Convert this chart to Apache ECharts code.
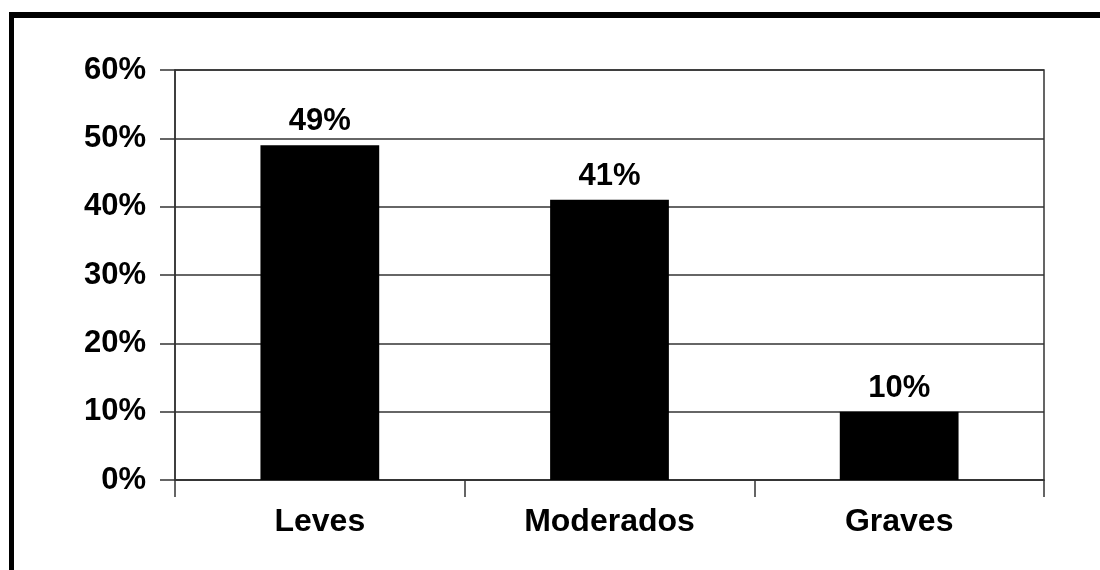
<!DOCTYPE html>
<html>
<head>
<meta charset="utf-8">
<script src="https://cdn.jsdelivr.net/npm/echarts@6/dist/echarts.min.js"></script>
<style>
html,body{margin:0;padding:0;background:#fff;overflow:hidden;}
#wrap{position:relative;width:1100px;height:570px;overflow:hidden;}
#chart{position:absolute;left:0;top:0;width:1100px;height:570px;}
#frame{position:absolute;left:9px;top:12px;width:1200px;height:700px;border-left:5px solid #000;border-top:6px solid #000;pointer-events:none;}
</style>
</head>
<body>
<div id="wrap">
<div id="chart"></div>
<div id="frame"></div>
</div>
<script>
const categories = ['Leves', 'Moderados', 'Graves'];
const values = [49, 41, 10];
const yTicks = { min: 0, max: 60, interval: 10 };

const FONT = '"Liberation Sans", Arial, sans-serif';
const LINE = '#333';

const chart = echarts.init(document.getElementById('chart'), null, { renderer: 'canvas' });
chart.setOption({
  backgroundColor: '#fff',
  animation: false,
  grid: {
    left: 175, right: 56, top: 70, bottom: 90,
    show: true, borderColor: LINE, borderWidth: 1.5, backgroundColor: 'transparent'
  },
  xAxis: {
    type: 'category',
    data: categories,
    boundaryGap: true,
    axisLine: { show: true, lineStyle: { color: LINE, width: 1.5 } },
    axisTick: { show: true, alignWithLabel: false, length: 17, lineStyle: { color: LINE, width: 1.5 } },
    axisLabel: { color: '#000', fontFamily: FONT, fontWeight: 'bold', fontSize: 32, margin: 26 },
    splitLine: { show: false }
  },
  yAxis: {
    type: 'value',
    min: yTicks.min, max: yTicks.max, interval: yTicks.interval,
    axisLine: { show: true, lineStyle: { color: LINE, width: 1.5 } },
    axisTick: { show: true, length: 15, lineStyle: { color: LINE, width: 1.5 } },
    axisLabel: { color: '#000', fontFamily: FONT, fontWeight: 'bold', fontSize: 31, margin: 29, formatter: '{value}%' },
    splitLine: { show: true, lineStyle: { color: LINE, width: 1.5 } }
  },
  series: [{
    type: 'bar',
    data: values,
    barWidth: '41%',
    itemStyle: { color: '#000' },
    label: {
      show: true, position: 'top', distance: 8,
      color: '#000', fontFamily: FONT, fontWeight: 'bold', fontSize: 31,
      formatter: '{c}%'
    }
  }]
});
</script>
</body>
</html>
